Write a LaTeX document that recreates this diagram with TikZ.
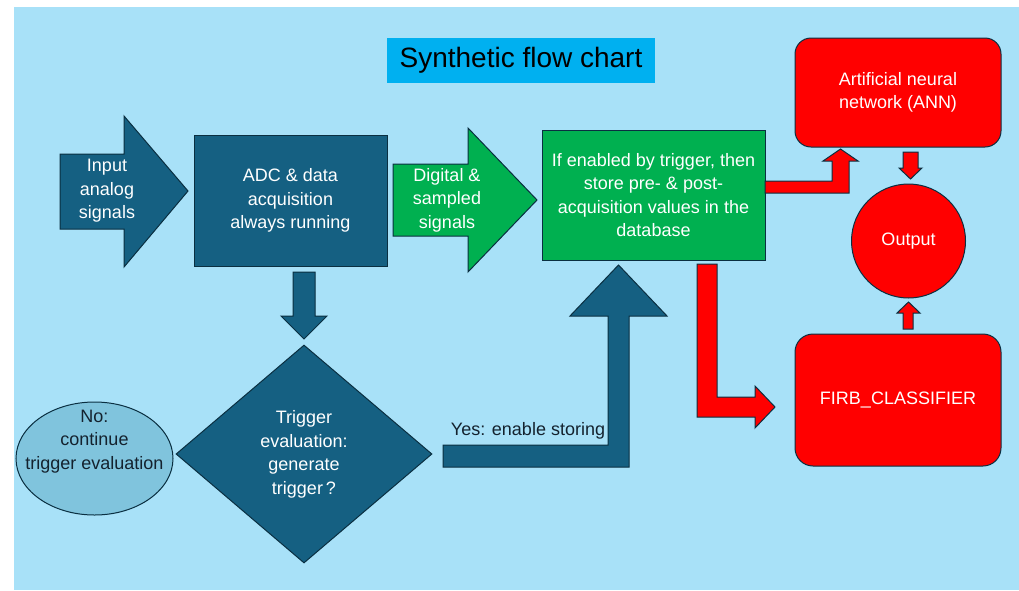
\documentclass[tikz,border=0pt]{standalone}
\usepackage{fontspec}
\setmainfont{Liberation Sans}
\usetikzlibrary{shapes.geometric}
\definecolor{bgblue}{HTML}{A8E1F8}
\definecolor{titleblue}{HTML}{00B0F0}
\definecolor{dteal}{HTML}{156082}
\definecolor{edgec}{HTML}{0A2F41}
\definecolor{okgreen}{HTML}{00B050}
\definecolor{ellfill}{HTML}{80C4DD}
\definecolor{darktext}{HTML}{14222E}
\newcommand\fsbody{\fontsize{18}{23.5}\selectfont}
\tikzset{
  shp/.style={draw=edgec, line width=1pt},
  bluebox/.style={shp, fill=dteal, text=white, align=center, font=\fsbody, inner sep=0pt},
  greenbox/.style={shp, fill=okgreen, text=white, align=center, font=\fsbody, inner sep=0pt},
  redbox/.style={shp, fill=red, text=white, align=center, font=\fsbody, inner sep=0pt},
  lbl/.style={align=center, font=\fsbody, inner sep=0pt},
  bluearrow/.style={shp, fill=dteal, line join=miter},
  greenarrow/.style={shp, fill=okgreen, line join=miter},
  redarrow/.style={shp, fill=red, line join=miter},
}
\begin{document}
\begin{tikzpicture}[x=1pt,y=-1pt]
\useasboundingbox (0,0) rectangle (1019,590);
\fill[white] (0,0) rectangle (1019,590);
\fill[bgblue] (14,7) rectangle (1019,590);

% title
\node[fill=titleblue, minimum width=268pt, minimum height=45pt, inner sep=0pt,
      font=\fontsize{28}{32}\selectfont] (title) at (521,60.5) {Synthetic flow chart};

% main boxes
\node[bluebox, minimum width=193pt, minimum height=131pt] (adc) at (290.5,200.5)
  {ADC \& data\\acquisition\\always running};
\node[greenbox, minimum width=223pt, minimum height=130pt] (store) at (653.5,195)
  {If enabled by trigger, then\\store pre- \& post-\\acquisition values in the\\database};
\node[redbox, rounded corners=16pt, minimum width=206pt, minimum height=109pt] (ann) at (898,92.5)
  {Artificial neural\\network (ANN)};
\node[redbox, rounded corners=18pt, minimum width=206pt, minimum height=132pt] (firb) at (898,400)
  {FIRB\_CLASSIFIER};
\node[redbox, circle, minimum size=114pt] (out) at (908.5,241) {Output};

% decision diamond
\node[shp, fill=dteal, diamond, aspect=1.17, minimum width=256pt, minimum height=218pt, inner sep=0pt] (dec) at (304,454) {};
\node[lbl, text=white] (dectext) at (304,454.5) {Trigger\\evaluation:\\generate\\trigger\,?};

% ellipse
\node[shp, fill=ellfill, ellipse, minimum width=157pt, minimum height=113pt, inner sep=0pt] (no) at (94.5,458.5) {};
\node[lbl, text=darktext] (notext) at (94.5,441.5) {No:\\continue\\trigger evaluation};

% input arrow
\draw[bluearrow] (60,154) -- (124,154) -- (124,116) -- (188,191) -- (124,267) -- (124,229) -- (60,229) -- cycle;
\node[lbl, text=white] (inp) at (107,191) {Input\\analog\\signals};

% digital arrow
\draw[greenarrow] (393,164) -- (468,164) -- (468,128) -- (537,200) -- (468,272) -- (468,236) -- (393,236) -- cycle;
\node[lbl, text=white] (dig) at (447,200) {Digital \&\\sampled\\signals};

% ADC -> decision
\draw[bluearrow] (293,272) -- (315,272) -- (315,316) -- (327,316) -- (304,339) -- (281,316) -- (293,316) -- cycle;

% yes arrow
\draw[bluearrow] (443,445) -- (608,445) -- (608,316) -- (570,316) -- (618.5,265) -- (667,316) -- (629,316) -- (629,467) -- (443,467) -- cycle;
\node[lbl, text=darktext] (yes) at (528,431) {Yes: enable storing};

% store -> FIRB
\draw[redarrow] (697,264) -- (717,264) -- (717,397) -- (755,397) -- (755,386) -- (775,407) -- (755,428) -- (755,417) -- (697,417) -- cycle;

% store -> ANN
\draw[redarrow] (765,181) -- (832,181) -- (832,161) -- (823,161) -- (840.5,149) -- (858,161) -- (849,161) -- (849,193) -- (765,193) -- cycle;

% ANN -> output
\draw[redarrow] (903,152) -- (918,152) -- (918,168) -- (922,168) -- (910.5,179) -- (899,168) -- (903,168) -- cycle;

% FIRB -> output
\draw[redarrow] (903,329) -- (913,329) -- (913,313) -- (920,313) -- (908.5,302) -- (897,313) -- (903,313) -- cycle;
\end{tikzpicture}
\end{document}
